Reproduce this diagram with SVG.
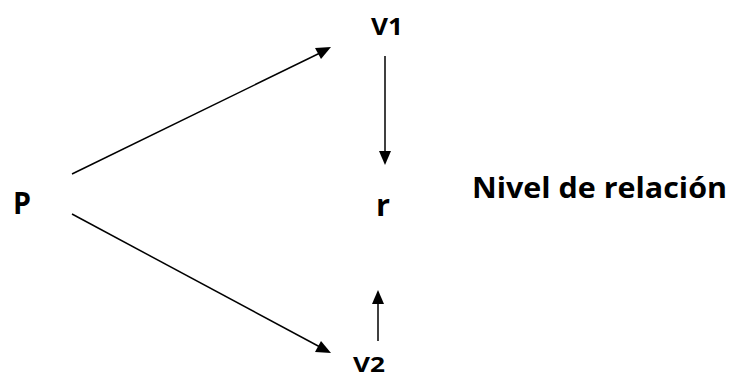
<svg xmlns="http://www.w3.org/2000/svg" width="733" height="379" viewBox="0 0 733 379">
<style>
.lbl{font-family:"Open Sans","Liberation Sans",sans-serif;font-weight:bold;fill:#000}
.ln{stroke:#000;stroke-width:1.5;fill:none}
</style>
<rect width="733" height="379" fill="#fff"/>
<g id="connectors">
<line class="ln" x1="72" y1="174" x2="320" y2="53"/>
<polygon points="331,47 315,48 321,59" fill="#000"/>
<line class="ln" x1="385" y1="56" x2="385" y2="152"/>
<polygon points="385,165 379,151 391,151" fill="#000"/>
<line class="ln" x1="72" y1="214" x2="320" y2="347"/>
<polygon points="331,353 315,352 321,341" fill="#000"/>
<line class="ln" x1="378" y1="341" x2="378" y2="302"/>
<polygon points="378,290 372,304 384,304" fill="#000"/>
</g>
<g id="node-P"><text class="lbl" x="13" y="214" font-size="30" textLength="18" lengthAdjust="spacingAndGlyphs">P</text></g>
<g id="node-V1"><text class="lbl" x="371" y="35" font-size="23" textLength="32" lengthAdjust="spacingAndGlyphs">V1</text></g>
<g id="node-r"><text class="lbl" x="376" y="216" font-size="31" textLength="14" lengthAdjust="spacingAndGlyphs">r</text></g>
<g id="node-V2"><text class="lbl" x="353" y="372" font-size="22" textLength="32" lengthAdjust="spacingAndGlyphs">V2</text></g>
<g id="node-nivel"><text class="lbl" x="472" y="198" font-size="29" textLength="255" lengthAdjust="spacingAndGlyphs">Nivel de relación</text></g>
</svg>
